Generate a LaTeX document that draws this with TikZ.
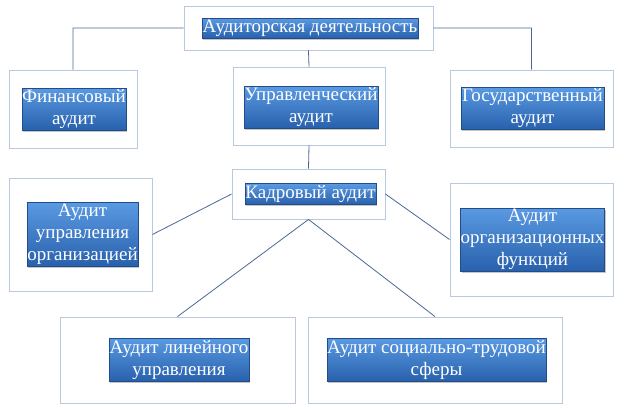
\documentclass[tikz,border=0pt]{standalone}
\usepackage{fontspec}
\setmainfont{Liberation Serif}
\usepackage{tikz}
\usetikzlibrary{positioning,shadows}
\definecolor{boxtop}{RGB}{90,154,226}
\definecolor{boxbot}{RGB}{40,96,172}
\definecolor{frameline}{RGB}{186,200,222}
\definecolor{linkline}{RGB}{74,104,150}
\tikzstyle{frm} = [draw=frameline,fill=white,line width=0.9pt,inner sep=0]
\tikzstyle{blk} = [draw=boxbot!80!black,top color=boxtop,bottom color=boxbot,
                   text=white,align=center,inner sep=0,line width=0.4pt,
                   font=\fontsize{19}{22}\selectfont,
                   drop shadow={shadow xshift=1.2pt,shadow yshift=-1.6pt,opacity=0.45}]

\begin{document}
\begin{tikzpicture}[
    x=1pt,
    y=-1pt,
    link/.style={draw=linkline,line width=0.8pt}
]
   \useasboundingbox (0,0) rectangle (624,416);

   \node[frm,minimum width=249,minimum height=44] (top)  at (308.5,28)  {};
   \node[frm,minimum width=128,minimum height=78] (fin)  at (73,109)    {};
   \node[frm,minimum width=152,minimum height=78] (upr)  at (309,106)   {};
   \node[frm,minimum width=163,minimum height=77] (gos)  at (531.5,108.5) {};
   \node[frm,minimum width=153,minimum height=50] (kadr) at (308.5,194) {};
   \node[frm,minimum width=143,minimum height=113] (org) at (80.5,234.5) {};
   \node[frm,minimum width=163,minimum height=113] (func) at (531.5,239.5) {};
   \node[frm,minimum width=235,minimum height=86] (lin)  at (177.5,360) {};
   \node[frm,minimum width=254,minimum height=86] (soc)  at (435,360)   {};

   \path[link]
     (top.west) -| (fin.north)
     (top.east) -| (gos.north)
     (top.south) -- (upr.north)
     (upr.south) -- (kadr.north)
     (kadr.west) -- (org.east)
     (kadr.east) -- (func.west)
     (kadr.south) -- (lin.north)
     (kadr.south) -- (soc.north);

   \node[blk,minimum width=216,minimum height=20] (topB)  at ([xshift=1.5pt]top.center)  {Аудиторская деятельность};
   \node[blk,minimum width=104,minimum height=42] (finB)  at ([xshift=1pt]fin.center)    {Финансовый\\аудит};
   \node[blk,minimum width=134,minimum height=42] (uprB)  at ([xshift=2pt,yshift=-1pt]upr.center) {Управленческий\\аудит};
   \node[blk,minimum width=143,minimum height=42] (gosB)  at ([xshift=1pt]gos.center)    {Государственный\\аудит};
   \node[blk,minimum width=131,minimum height=21] (kadrB) at ([xshift=2pt]kadr.center)   {Кадровый аудит};
   \node[blk,minimum width=109,minimum height=64] (orgB)  at ([xshift=2pt]org.center)    {Аудит\\управления\\организацией};
   \node[blk,minimum width=143,minimum height=63] (funcB) at ([xshift=1pt]func.center)   {Аудит\\организационных\\функций};
   \node[blk,minimum width=140,minimum height=43] (linB)  at ([xshift=1.5pt]lin.center)  {Аудит линейного\\управления};
   \node[blk,minimum width=219,minimum height=43] (socB)  at ([xshift=1.5pt]soc.center)  {Аудит социально-трудовой\\сферы};

\end{tikzpicture}
\end{document}
